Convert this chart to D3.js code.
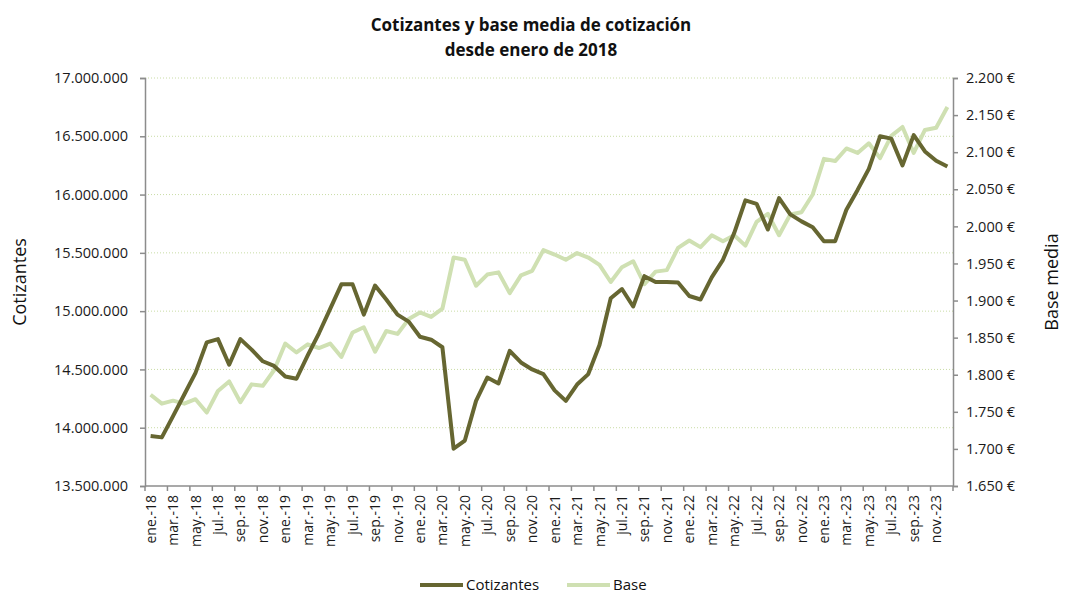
<!DOCTYPE html>
<html>
<head>
<meta charset="utf-8">
<script src="https://cdn.jsdelivr.net/npm/d3@7"></script>
<style>
  body { margin: 0; background: #fff; }
  svg { font-family: "Open Sans", "DejaVu Sans", sans-serif; }
</style>
</head>
<body>
<div id="chart"></div>
<script>
// month names + years
var monthNames = ["ene.", "feb.", "mar.", "abr.", "may.", "jun.", "jul.", "ago.", "sep.", "oct.", "nov.", "dic."];
var years = ["18", "19", "20", "21", "22", "23"];

// Cotizantes (afiliados), ene.-18 .. dic.-23
var cotizantes = [
  13929000, 13917000, 14100000, 14285000, 14470000, 14732000, 14760000, 14540000, 14760000, 14670000, 14570000, 14530000,
  14440000, 14420000, 14620000, 14810000, 15020000, 15230000, 15230000, 14970000, 15220000, 15100000, 14970000, 14910000,
  14780000, 14755000, 14690000, 13820000, 13890000, 14230000, 14430000, 14380000, 14660000, 14560000, 14500000, 14460000,
  14320000, 14230000, 14370000, 14460000, 14710000, 15110000, 15190000, 15040000, 15300000, 15250000, 15250000, 15245000,
  15130000, 15100000, 15290000, 15440000, 15670000, 15950000, 15920000, 15700000, 15970000, 15830000, 15770000, 15720000,
  15600000, 15600000, 15870000, 16040000, 16220000, 16500000, 16480000, 16250000, 16510000, 16370000, 16290000, 16240000
];

// Base media de cotizacion (euros)
var base = [
  1773, 1761, 1765, 1761, 1767, 1749, 1778, 1791, 1763, 1787, 1785, 1806,
  1842, 1830, 1841, 1836, 1842, 1824, 1857, 1864, 1831, 1859, 1855, 1875,
  1884, 1878, 1889, 1958, 1955, 1920, 1935, 1938, 1910, 1934, 1940, 1968,
  1962, 1955, 1964, 1958, 1948, 1925, 1945, 1953, 1922, 1939, 1941, 1971,
  1981, 1972, 1988, 1980, 1988, 1974, 2006, 2017, 1988, 2016, 2019, 2043,
  2091, 2088, 2105, 2099, 2112, 2092, 2122, 2134, 2099, 2130, 2133, 2161
];

var leftTicks = [13500000, 14000000, 14500000, 15000000, 15500000, 16000000, 16500000, 17000000];
var rightTicks = [1650, 1700, 1750, 1800, 1850, 1900, 1950, 2000, 2050, 2100, 2150, 2200];

var months = [];
years.forEach(function(y) {
  monthNames.forEach(function(m) { months.push(m + "-" + y); });
});

var width = 1066, height = 594;
var margin = {top: 78, right: 113, bottom: 108, left: 145};
var innerW = width - margin.left - margin.right;
var innerH = height - margin.top - margin.bottom;

var darkColor = "#666631";
var lightColor = "#cfe0b2";

var svg = d3.select("#chart").append("svg")
  .attr("width", width)
  .attr("height", height);

var x = d3.scaleBand().domain(months).range([margin.left, margin.left + innerW]).padding(0);
var yL = d3.scaleLinear().domain([13500000, 17000000]).range([margin.top + innerH, margin.top]);
var yR = d3.scaleLinear().domain([1650, 2200]).range([margin.top + innerH, margin.top]);

var fmtL = function(v) { return d3.format(",")(v).replace(/,/g, "."); };
var fmtR = function(v) { return d3.format(",")(v).replace(/,/g, ".") + " €"; };

// gridlines (dotted)
svg.append("g").selectAll("line")
  .data(leftTicks.slice(1))
  .enter().append("line")
  .attr("x1", margin.left)
  .attr("x2", margin.left + innerW)
  .attr("y1", function(d) { return yL(d); })
  .attr("y2", function(d) { return yL(d); })
  .attr("stroke", "#c9dca6")
  .attr("stroke-width", 1)
  .attr("stroke-dasharray", "1,2");

// left axis
var axL = svg.append("g")
  .attr("transform", "translate(" + margin.left + ",0)")
  .call(d3.axisLeft(yL).tickValues(leftTicks).tickFormat(fmtL).tickSize(5).tickPadding(12));
// right axis
var axR = svg.append("g")
  .attr("transform", "translate(" + (margin.left + innerW) + ",0)")
  .call(d3.axisRight(yR).tickValues(rightTicks).tickFormat(fmtR).tickSize(5).tickPadding(8));

[axL, axR].forEach(function(ax) {
  ax.select(".domain").attr("stroke", "#8c8c8c").attr("stroke-width", 1.5);
  ax.selectAll(".tick line").attr("stroke", "#8c8c8c").attr("stroke-width", 1.5);
  ax.selectAll("text").attr("font-size", "14.5px").attr("fill", "#1a1a1a")
    .attr("font-family", "'Open Sans', sans-serif");
});

// bottom axis
var xAxisG = svg.append("g");
xAxisG.append("line")
  .attr("x1", margin.left).attr("x2", margin.left + innerW)
  .attr("y1", margin.top + innerH).attr("y2", margin.top + innerH)
  .attr("stroke", "#8c8c8c").attr("stroke-width", 1.5);

var tickMonths = months.filter(function(m, i) { return i % 2 === 0; });
xAxisG.selectAll("line.tk")
  .data(tickMonths)
  .enter().append("line")
  .attr("class", "tk")
  .attr("x1", function(d) { return x(d); })
  .attr("x2", function(d) { return x(d); })
  .attr("y1", margin.top + innerH)
  .attr("y2", margin.top + innerH + 5)
  .attr("stroke", "#8c8c8c").attr("stroke-width", 1.5);
xAxisG.append("line")
  .attr("x1", margin.left + innerW).attr("x2", margin.left + innerW)
  .attr("y1", margin.top + innerH).attr("y2", margin.top + innerH + 5)
  .attr("stroke", "#8c8c8c").attr("stroke-width", 1.5);

xAxisG.selectAll("text")
  .data(tickMonths)
  .enter().append("text")
  .attr("transform", function(d) {
    return "translate(" + (x(d) + x.bandwidth() / 2 + 5) + "," + (margin.top + innerH + 9) + ") rotate(-90)";
  })
  .attr("text-anchor", "end")
  .attr("font-size", "14px")
  .attr("fill", "#1a1a1a")
  .text(function(d) { return d; });

// lines
var lineL = d3.line()
  .x(function(d, i) { return x(months[i]) + x.bandwidth() / 2; })
  .y(function(d) { return yL(d); });
var lineR = d3.line()
  .x(function(d, i) { return x(months[i]) + x.bandwidth() / 2; })
  .y(function(d) { return yR(d); });

svg.append("path")
  .datum(base)
  .attr("d", lineR)
  .attr("fill", "none")
  .attr("stroke", lightColor)
  .attr("stroke-width", 4)
  .attr("stroke-linejoin", "round");

svg.append("path")
  .datum(cotizantes)
  .attr("d", lineL)
  .attr("fill", "none")
  .attr("stroke", darkColor)
  .attr("stroke-width", 4)
  .attr("stroke-linejoin", "round");

// title
svg.append("text")
  .attr("x", 531).attr("y", 31)
  .attr("text-anchor", "middle")
  .attr("font-size", "17px").attr("font-weight", "bold").attr("fill", "#111")
  .text("Cotizantes y base media de cotización");
svg.append("text")
  .attr("x", 531).attr("y", 56)
  .attr("text-anchor", "middle")
  .attr("font-size", "17px").attr("font-weight", "bold").attr("fill", "#111")
  .text("desde enero de 2018");

// axis titles
svg.append("text")
  .attr("transform", "translate(26," + (margin.top + innerH / 2) + ") rotate(-90)")
  .attr("text-anchor", "middle")
  .attr("font-size", "18px").attr("fill", "#111")
  .text("Cotizantes");
svg.append("text")
  .attr("transform", "translate(1058," + (margin.top + innerH / 2) + ") rotate(-90)")
  .attr("text-anchor", "middle")
  .attr("font-size", "18px").attr("fill", "#111")
  .text("Base media");

// legend
var legend = [
  {name: "Cotizantes", color: darkColor, x: 420},
  {name: "Base", color: lightColor, x: 567}
];
var lg = svg.append("g");
legend.forEach(function(l) {
  lg.append("line")
    .attr("x1", l.x).attr("x2", l.x + 43)
    .attr("y1", 585).attr("y2", 585)
    .attr("stroke", l.color).attr("stroke-width", 4);
  lg.append("text")
    .attr("x", l.x + 46).attr("y", 590)
    .attr("font-size", "15px").attr("fill", "#111")
    .text(l.name);
});
</script>
</body>
</html>
